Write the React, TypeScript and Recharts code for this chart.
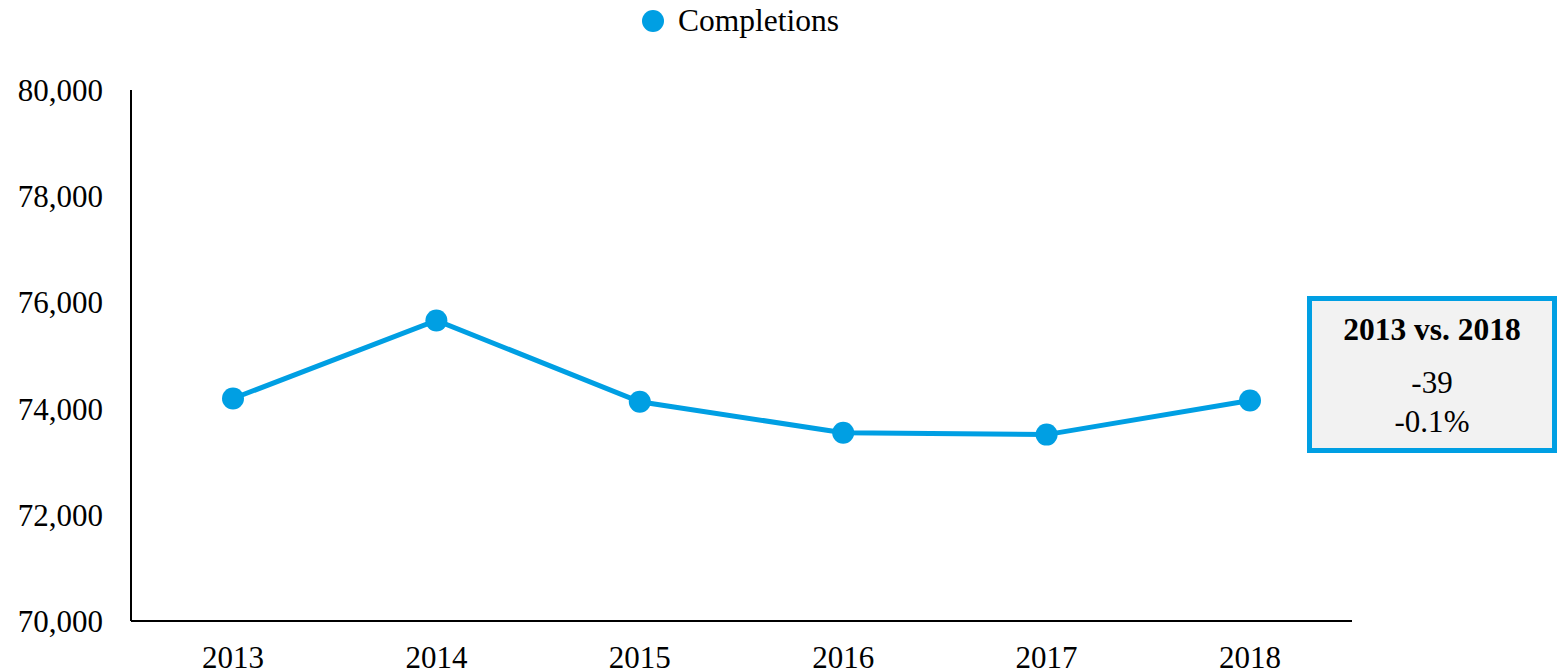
import { LineChart, Line, XAxis, YAxis, Legend } from 'recharts';

const years = ['2013', '2014', '2015', '2016', '2017', '2018'];
const completions = [74190, 75660, 74130, 73545, 73510, 74151];
const yTicks = [70000, 72000, 74000, 76000, 78000, 80000];

const data = years.map((year, i) => ({ year, completions: completions[i] }));

const BLUE = '#009FE3';
const FONT = '"Liberation Serif", "Times New Roman", serif';

const first = completions[0];
const last = completions[completions.length - 1];
const diff = last - first;
const pct = (diff / first) * 100;

const LegendContent = () => (
  <div style={{ position: 'relative', height: 44, fontFamily: FONT }}>
    <div
      style={{
        position: 'absolute',
        left: 642,
        top: 10,
        width: 22,
        height: 22,
        borderRadius: '50%',
        background: BLUE,
      }}
    />
    <div style={{ position: 'absolute', left: 678, top: 3, fontSize: 31.5, lineHeight: '36px', color: '#000' }}>
      Completions
    </div>
  </div>
);

const App = () => {
  return (
    <div style={{ position: 'absolute', left: 0, top: 0, width: 1558, height: 672, background: '#fff' }}>
      <LineChart width={1558} height={672} data={data} margin={{ top: 46, right: 206, bottom: 0, left: 0 }}>
        <Legend
          verticalAlign="top"
          align="left"
          content={<LegendContent />}
          wrapperStyle={{ top: 0, left: 0, width: 1558, height: 44 }}
        />
        <XAxis
          dataKey="year"
          height={51}
          padding={{ left: 102, right: 102 }}
          tickLine={false}
          tickSize={0}
          tickMargin={25}
          axisLine={{ stroke: '#000', strokeWidth: 2 }}
          tick={{ fontSize: 31, fill: '#000', fontFamily: FONT }}
        />
        <YAxis
          width={131}
          domain={[70000, 80000]}
          ticks={yTicks}
          tickLine={false}
          tickSize={0}
          tickMargin={28}
          axisLine={{ stroke: '#000', strokeWidth: 2 }}
          tick={{ fontSize: 31, fill: '#000', fontFamily: FONT }}
          tickFormatter={(v: number) => v.toLocaleString('en-US')}
        />
        <Line
          type="linear"
          dataKey="completions"
          stroke={BLUE}
          strokeWidth={5}
          dot={{ r: 11, fill: BLUE, stroke: 'none' }}
          activeDot={false}
          isAnimationActive={false}
        />
      </LineChart>
      <div
        style={{
          position: 'absolute',
          left: 1307,
          top: 296,
          width: 250,
          height: 157,
          boxSizing: 'border-box',
          border: `5px solid ${BLUE}`,
          background: '#f2f2f2',
          fontFamily: FONT,
          color: '#000',
          textAlign: 'center',
        }}
      >
        <div style={{ fontWeight: 'bold', fontSize: 31.5, lineHeight: '36px', marginTop: 11 }}>
          {years[0]} vs. {years[years.length - 1]}
        </div>
        <div style={{ fontSize: 31, lineHeight: '39px', marginTop: 15 }}>
          {diff.toLocaleString('en-US')}
        </div>
        <div style={{ fontSize: 31, lineHeight: '39px' }}>{pct.toFixed(1)}%</div>
      </div>
    </div>
  );
};

export default App;
